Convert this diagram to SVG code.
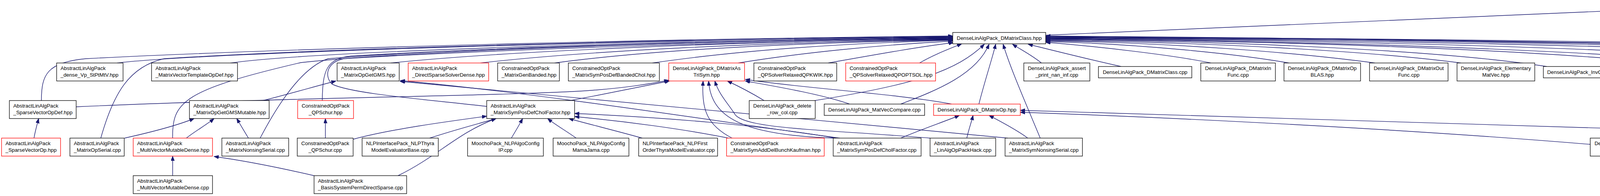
<svg xmlns="http://www.w3.org/2000/svg" width="5935" height="501" viewBox="0 0 5935 501">
<style>
.n rect{fill:#fff;stroke:#000;stroke-width:1.3}
.r rect{stroke:#f00}
.g rect{fill:#bfbfbf}
text{font-family:"Liberation Sans",Arial,Helvetica,sans-serif;font-size:13.3px;fill:#000}
.m{text-anchor:middle}
#edges path{fill:none;stroke:#191970;stroke-width:1.4;marker-end:url(#a)}
</style>
<defs>
<marker id="a" markerUnits="userSpaceOnUse" markerWidth="14" markerHeight="11" refX="12" refY="4.5" orient="auto"><path d="M0,0L12,4.5L0,9z" fill="#191970" stroke="#191970" stroke-width="1"/></marker>
</defs>
<rect width="5935" height="501" fill="#fff"/>
<g id="edges">
<path d="M106,257C106,190 120,160 220,150C800,120 1800,98 2439,92"/>
<path d="M258,353C290,240 330,170 420,150C900,120 1800,100 2439,93"/>
<path d="M300,161C500,135 1700,100 2439,94"/>
<path d="M590,161C800,130 1800,102 2439,95"/>
<path d="M442,353C440,260 470,230 770,160C1100,125 1900,103 2439,96"/>
<path d="M666,353C720,250 780,170 840,150C1200,120 1900,104 2439,97"/>
<path d="M825,257C826,180 835,150 900,143C1300,120 1900,104 2439,98"/>
<path d="M1000,161C1300,130 1900,106 2439,99"/>
<path d="M1246,272C1100,255 900,240 850,215C830,195 835,160 880,150C1300,125 1900,106 2439,100"/>
<path d="M1230,161C1500,130 1950,108 2439,101"/>
<path d="M1420,161C1650,130 2000,110 2439,102"/>
<path d="M1670,161C1850,135 2100,112 2439,103"/>
<path d="M1890,161C2050,135 2250,115 2439,105"/>
<path d="M2120,161C2250,138 2350,120 2441,109"/>
<path d="M2354,161C2390,140 2430,125 2462,112"/>
<path d="M2086,257C2350,215 2450,180 2520,113"/>
<path d="M2306,266C2400,230 2500,190 2532,113"/>
<path d="M2506,266C2520,210 2540,150 2549,113"/>
<path d="M2663,353C2620,250 2585,170 2568,113"/>
<path d="M2666,161C2640,140 2610,125 2592,113"/>
<path d="M2870,170C2780,150 2700,130 2632,113"/>
<path d="M3100,161C3000,140 2800,118 2677,108"/>
<path d="M3300,161C3150,135 2900,112 2677,106"/>
<path d="M3520,161C3300,132 3000,110 2677,104"/>
<path d="M3740,161C3500,130 3100,108 2677,103"/>
<path d="M3960,170C3700,130 3200,106 2677,101"/>
<path d="M4250,161C3900,126 3300,105 2677,100"/>
<path d="M4480,170C4100,125 3300,104 2677,99"/>
<path d="M4720,170C4300,122 3400,103 2677,98"/>
<path d="M4980,161C4500,120 3500,102 2677,97"/>
<path d="M5190,161C4700,118 3600,101 2677,96"/>
<path d="M5420,161C4900,116 3700,100 2677,95"/>
<path d="M5740,161C5200,115 3800,99 2677,94"/>
<path d="M4291,371C4700,340 5400,300 5600,200C5640,170 5600,150 5500,145C4800,120 3600,100 2677,93"/>
<path d="M5684,353C5688,260 5670,180 5620,160C5500,130 3800,100 2677,92"/>
<path d="M2677,90C3200,68 3700,45 4142,27"/>
<path d="M5776,357C5860,320 5925,290 5927,200C5928,160 5900,130 5830,110C5500,60 4800,30 4386,21"/>
<path d="M195,273C700,250 1300,245 1500,232C1600,225 1660,215 1712,205"/>
<path d="M1460,257C1550,240 1650,220 1714,207"/>
<path d="M1874,353C1810,320 1795,280 1800,207"/>
<path d="M2133,353C1900,345 1820,300 1814,207"/>
<path d="M2381,353C2100,330 1900,330 1880,290C1860,260 1840,240 1830,207"/>
<path d="M1956,257C1920,235 1890,220 1862,207"/>
<path d="M2175,266C2100,240 1980,220 1908,207"/>
<path d="M2436,266C2300,240 2050,225 1908,203"/>
<path d="M1100,353C1170,330 1230,315 1270,303"/>
<path d="M1309,353C1320,335 1330,318 1338,303"/>
<path d="M1475,353C1450,335 1420,318 1402,303"/>
<path d="M1644,353C1580,335 1510,318 1456,303"/>
<path d="M1865,353C1750,330 1600,310 1471,298"/>
<path d="M2140,353C1950,320 1700,300 1471,290"/>
<path d="M904,356C1000,330 1150,310 1246,297"/>
<path d="M1019,449C1120,400 1170,340 1270,303"/>
<path d="M673,257C740,240 810,220 860,207"/>
<path d="M2150,353C1900,320 1400,240 1025,206"/>
<path d="M2580,353C2400,340 1600,260 1024,208"/>
<path d="M319,353C400,335 460,318 497,303"/>
<path d="M477,353C500,335 530,318 548,303"/>
<path d="M636,353C625,335 615,318 606,303"/>
<path d="M442,449L442,399"/>
<path d="M804,449C700,425 620,410 548,400"/>
<path d="M87,353C90,335 95,318 99,303"/>
<path d="M833,353L833,303"/>
<path d="M5813,257L5813,207"/>
<path d="M2306,353C2360,330 2420,310 2456,295"/>
<path d="M2475,353C2480,330 2487,312 2491,295"/>
<path d="M2631,353C2600,330 2560,310 2532,295"/>
<path d="M4071,369C3600,330 3000,300 2612,287"/>
<path d="M5590,373C4500,340 3500,300 2612,282"/>
</g>
<g id="root" class="n g"><rect x="4142" y="6" width="244" height="29"/><text class="m" x="4264" y="25">DenseLinAlgPack_DMatrixAssign.hpp</text></g>
<g id="dmatrixclass_hpp" class="n"><rect x="2439" y="83" width="238" height="29"/><text class="m" x="2558" y="102">DenseLinAlgPack_DMatrixClass.hpp</text></g>
<g id="n1" class="n"><rect x="145" y="161" width="170" height="46"/><text x="155" y="178.5">AbstractLinAlgPack</text><text x="155" y="195.5">_dense_Vp_StPtMtV.hpp</text></g>
<g id="n2" class="n"><rect x="388" y="161" width="220" height="46"/><text x="398" y="178.5">AbstractLinAlgPack</text><text x="398" y="195.5">_MatrixVectorTemplateOpDef.hpp</text></g>
<g id="n3" class="n"><rect x="863" y="161" width="159" height="46"/><text x="873" y="178.5">AbstractLinAlgPack</text><text x="873" y="195.5">_MatrixOpGetGMS.hpp</text></g>
<g id="n4" class="n r"><rect x="1045" y="161" width="206" height="46"/><text x="1055" y="178.5">AbstractLinAlgPack</text><text x="1055" y="195.5">_DirectSparseSolverDense.hpp</text></g>
<g id="n5" class="n"><rect x="1274" y="161" width="158" height="46"/><text x="1284" y="178.5">ConstrainedOptPack</text><text x="1284" y="195.5">_MatrixGenBanded.hpp</text></g>
<g id="n6" class="n"><rect x="1455" y="161" width="233" height="46"/><text x="1465" y="178.5">ConstrainedOptPack</text><text x="1465" y="195.5">_MatrixSymPosDefBandedChol.hpp</text></g>
<g id="n7" class="n r"><rect x="1712" y="161" width="194" height="46"/><text class="m" x="1809" y="178.5">DenseLinAlgPack_DMatrixAs</text><text class="m" x="1809" y="195.5">TriSym.hpp</text></g>
<g id="n8" class="n"><rect x="1930" y="161" width="212" height="46"/><text x="1940" y="178.5">ConstrainedOptPack</text><text x="1940" y="195.5">_QPSolverRelaxedQPKWIK.hpp</text></g>
<g id="n9" class="n r"><rect x="2165" y="161" width="230" height="46"/><text x="2175" y="178.5">ConstrainedOptPack</text><text x="2175" y="195.5">_QPSolverRelaxedQPOPTSOL.hpp</text></g>
<g id="n10" class="n"><rect x="2621" y="161" width="169" height="46"/><text class="m" x="2705.5" y="178.5">DenseLinAlgPack_assert</text><text class="m" x="2705.5" y="195.5">_print_nan_inf.cpp</text></g>
<g id="n11" class="n"><rect x="2812" y="170" width="239" height="29"/><text class="m" x="2931.5" y="189">DenseLinAlgPack_DMatrixClass.cpp</text></g>
<g id="n12" class="n"><rect x="3074" y="161" width="191" height="46"/><text class="m" x="3169.5" y="178.5">DenseLinAlgPack_DMatrixIn</text><text class="m" x="3169.5" y="195.5">Func.cpp</text></g>
<g id="n13" class="n"><rect x="3287" y="161" width="196" height="46"/><text class="m" x="3385" y="178.5">DenseLinAlgPack_DMatrixOp</text><text class="m" x="3385" y="195.5">BLAS.hpp</text></g>
<g id="n14" class="n"><rect x="3506" y="161" width="201" height="46"/><text class="m" x="3606.5" y="178.5">DenseLinAlgPack_DMatrixOut</text><text class="m" x="3606.5" y="195.5">Func.cpp</text></g>
<g id="n15" class="n"><rect x="3730" y="161" width="199" height="46"/><text class="m" x="3829.5" y="178.5">DenseLinAlgPack_Elementary</text><text class="m" x="3829.5" y="195.5">MatVec.hpp</text></g>
<g id="n16" class="n"><rect x="3951" y="170" width="245" height="29"/><text class="m" x="4073.5" y="189">DenseLinAlgPack_InvCholUpdate.cpp</text></g>
<g id="n17" class="n r"><rect x="4221" y="161" width="187" height="46"/><text class="m" x="4314.5" y="178.5">DenseLinAlgPack_LinAlgOp</text><text class="m" x="4314.5" y="195.5">PackDef.hpp</text></g>
<g id="n18" class="n"><rect x="4432" y="170" width="227" height="29"/><text class="m" x="4545.5" y="189">DenseLinAlgPack_MatlabPack.cpp</text></g>
<g id="n19" class="n"><rect x="4682" y="170" width="235" height="29"/><text class="m" x="4799.5" y="189">DenseLinAlgPack_PermVecMat.cpp</text></g>
<g id="n20" class="n r"><rect x="4940" y="161" width="191" height="46"/><text class="m" x="5035.5" y="178.5">MoochoPack_FeasibilityStep</text><text class="m" x="5035.5" y="195.5">ReducedStd_Strategy.hpp</text></g>
<g id="n21" class="n"><rect x="5154" y="161" width="197" height="46"/><text class="m" x="5252.5" y="178.5">DenseLinAlgPack_TestDense</text><text class="m" x="5252.5" y="195.5">LinAlgPackIO.cpp</text></g>
<g id="n22" class="n"><rect x="5376" y="161" width="218" height="46"/><text class="m" x="5485" y="178.5">DenseLinAlgPack_TestGenMatrix</text><text class="m" x="5485" y="195.5">Class.cpp</text></g>
<g id="n23" class="n"><rect x="5719" y="161" width="187" height="46"/><text x="5729" y="178.5">AbstractLinAlgPack</text><text x="5729" y="195.5">_COOMatrixTmplOpDef.hpp</text></g>
<g id="m1" class="n"><rect x="24" y="257" width="171" height="46"/><text x="34" y="274.5">AbstractLinAlgPack</text><text x="34" y="291.5">_SparseVectorOpDef.hpp</text></g>
<g id="m2" class="n"><rect x="485" y="257" width="204" height="46"/><text x="495" y="274.5">AbstractLinAlgPack</text><text x="495" y="291.5">_MatrixOpGetGMSMutable.hpp</text></g>
<g id="m3" class="n r"><rect x="762" y="257" width="143" height="46"/><text class="m" x="833.5" y="274.5">ConstrainedOptPack</text><text class="m" x="833.5" y="291.5">_QPSchur.hpp</text></g>
<g id="m4" class="n"><rect x="1246" y="257" width="225" height="46"/><text x="1256" y="274.5">AbstractLinAlgPack</text><text x="1256" y="291.5">_MatrixSymPosDefCholFactor.hpp</text></g>
<g id="m5" class="n"><rect x="1918" y="257" width="169" height="46"/><text class="m" x="2002.5" y="274.5">DenseLinAlgPack_delete</text><text class="m" x="2002.5" y="291.5">_row_col.cpp</text></g>
<g id="m6" class="n"><rect x="2110" y="266" width="257" height="29"/><text class="m" x="2238.5" y="285">DenseLinAlgPack_MatVecCompare.cpp</text></g>
<g id="m7" class="n r"><rect x="2390" y="266" width="222" height="29"/><text class="m" x="2501" y="285">DenseLinAlgPack_DMatrixOp.hpp</text></g>
<g id="m8" class="n r"><rect x="5730" y="257" width="166" height="46"/><text x="5740" y="274.5">AbstractLinAlgPack</text><text x="5740" y="291.5">_COOMatrixTmplOp.hpp</text></g>
<g id="k1" class="n r"><rect x="4" y="353" width="151" height="46"/><text x="14" y="370.5">AbstractLinAlgPack</text><text x="14" y="387.5">_SparseVectorOp.hpp</text></g>
<g id="k2" class="n"><rect x="179" y="353" width="139" height="46"/><text x="189" y="370.5">AbstractLinAlgPack</text><text x="189" y="387.5">_MatrixOpSerial.cpp</text></g>
<g id="k3" class="n r"><rect x="341" y="353" width="203" height="46"/><text x="351" y="370.5">AbstractLinAlgPack</text><text x="351" y="387.5">_MultiVectorMutableDense.hpp</text></g>
<g id="k4" class="n"><rect x="568" y="353" width="171" height="46"/><text x="578" y="370.5">AbstractLinAlgPack</text><text x="578" y="387.5">_MatrixNonsingSerial.cpp</text></g>
<g id="k5" class="n"><rect x="761" y="353" width="143" height="46"/><text class="m" x="832.5" y="370.5">ConstrainedOptPack</text><text class="m" x="832.5" y="387.5">_QPSchur.cpp</text></g>
<g id="k6" class="n"><rect x="927" y="353" width="195" height="46"/><text class="m" x="1024.5" y="370.5">NLPInterfacePack_NLPThyra</text><text class="m" x="1024.5" y="387.5">ModelEvaluatorBase.cpp</text></g>
<g id="k7" class="n"><rect x="1197" y="353" width="194" height="46"/><text class="m" x="1294" y="370.5">MoochoPack_NLPAlgoConfig</text><text class="m" x="1294" y="387.5">IP.cpp</text></g>
<g id="k8" class="n"><rect x="1416" y="353" width="194" height="46"/><text class="m" x="1513" y="370.5">MoochoPack_NLPAlgoConfig</text><text class="m" x="1513" y="387.5">MamaJama.cpp</text></g>
<g id="k9" class="n"><rect x="1635" y="353" width="202" height="46"/><text x="1645" y="370.5">NLPInterfacePack_NLPFirst</text><text x="1645" y="387.5">OrderThyraModelEvaluator.cpp</text></g>
<g id="k10" class="n r"><rect x="1860" y="353" width="250" height="46"/><text x="1870" y="370.5">ConstrainedOptPack</text><text x="1870" y="387.5">_MatrixSymAddDelBunchKaufman.hpp</text></g>
<g id="k11" class="n"><rect x="2133" y="353" width="225" height="46"/><text x="2143" y="370.5">AbstractLinAlgPack</text><text x="2143" y="387.5">_MatrixSymPosDefCholFactor.cpp</text></g>
<g id="k12" class="n"><rect x="2381" y="353" width="168" height="46"/><text x="2391" y="370.5">AbstractLinAlgPack</text><text x="2391" y="387.5">_LinAlgOpPackHack.cpp</text></g>
<g id="k13" class="n"><rect x="2573" y="353" width="198" height="46"/><text x="2583" y="370.5">AbstractLinAlgPack</text><text x="2583" y="387.5">_MatrixSymNonsingSerial.cpp</text></g>
<g id="k14" class="n"><rect x="4071" y="353" width="220" height="46"/><text class="m" x="4181" y="370.5">DenseLinAlgPack_TestGenMatrix</text><text class="m" x="4181" y="387.5">Op.cpp</text></g>
<g id="k15" class="n"><rect x="5590" y="353" width="186" height="46"/><text x="5600" y="370.5">AbstractLinAlgPack</text><text x="5600" y="387.5">_MatrixSymDiagSparse.cpp</text></g>
<g id="j1" class="n"><rect x="341" y="449" width="203" height="46"/><text x="351" y="466.5">AbstractLinAlgPack</text><text x="351" y="483.5">_MultiVectorMutableDense.cpp</text></g>
<g id="j2" class="n"><rect x="804" y="449" width="237" height="46"/><text x="814" y="466.5">AbstractLinAlgPack</text><text x="814" y="483.5">_BasisSystemPermDirectSparse.cpp</text></g>
</svg>
